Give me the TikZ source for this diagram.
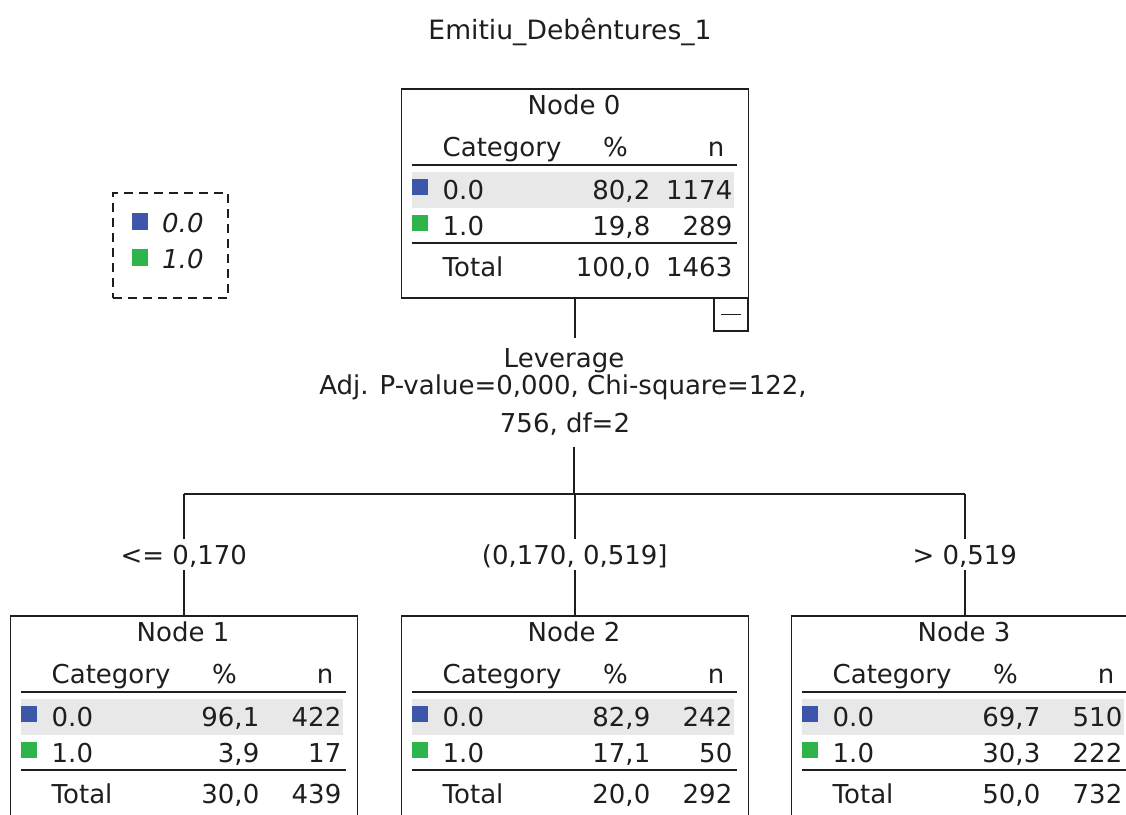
\documentclass[tikz,border=0pt]{standalone}
\usepackage{fontspec}
\setmainfont{DejaVu Sans}
\definecolor{catblue}{HTML}{3E56A9}
\definecolor{catgreen}{HTML}{2DB54A}
\definecolor{bandgray}{HTML}{E8E8E8}
\definecolor{ink}{HTML}{1E1E1E}
\tikzset{
  txt/.style={inner sep=0pt, text height=19pt, text depth=0pt, font=\fontsize{26}{30}\selectfont, text=ink},
  box/.style={draw=ink, line width=1.6pt, anchor=north west, minimum width=347pt, minimum height=209pt, inner sep=0pt},
  rule/.style={draw=ink, line width=1.6pt},
  conn/.style={draw=ink, line width=1.6pt},
  lab/.style={txt, fill=white, inner ysep=6pt, inner xsep=2pt},
}
\newcommand\spssnode[9]{%
  \begin{scope}[shift={(#2,#3)}]
    \fill[bandgray] (11,84) rectangle (333,120);
    \node[box] (n#1) at (0,0) {};
    \fill[catblue] (11,91) rectangle (27,107);
    \fill[catgreen] (11,127) rectangle (27,143);
    \node[txt] (n#1title) at (173.5,17) {Node #1};
    \node[txt, anchor=west] (n#1cat) at (42,59) {Category};
    \node[txt] (n#1pct) at (215,59) {\%};
    \node[txt, anchor=east] (n#1n) at (324,59) {n};
    \draw[rule] (11,77) -- (336,77);
    \node[txt, anchor=west] (n#1r0) at (42,102) {0.0};
    \node[txt, anchor=east] (n#1p0) at (250,102) {#4};
    \node[txt, anchor=east] (n#1c0) at (332,102) {#5};
    \node[txt, anchor=west] (n#1r1) at (42,137.5) {1.0};
    \node[txt, anchor=east] (n#1p1) at (250,137.5) {#6};
    \node[txt, anchor=east] (n#1c1) at (332,137.5) {#7};
    \draw[rule] (11,155) -- (336,155);
    \node[txt, anchor=west] (n#1tot) at (42,179) {Total};
    \node[txt, anchor=east] (n#1pt) at (250,179) {#8};
    \node[txt, anchor=east] (n#1ct) at (332,179) {#9};
  \end{scope}}
\begin{document}
\begin{tikzpicture}[x=1pt, y=-1pt]
  \useasboundingbox (0,0) rectangle (1126,814);
  \clip (0,0) rectangle (1126,814);
  \fill[white] (0,0) rectangle (1126,814);

  \node[txt, font=\fontsize{26.6}{30}\selectfont] (title) at (570,30) {Emitiu\_Debêntures\_1};

  % legend
  \node[draw=ink, line width=1.6pt, dash pattern=on 9pt off 6pt, anchor=north west,
        minimum width=115pt, minimum height=105pt, inner sep=0pt] (legend) at (112,192) {};
  \fill[catblue] (132,213) rectangle (148,230);
  \fill[catgreen] (132,249) rectangle (148,266);
  \node[txt, anchor=west, font=\fontsize{26}{30}\selectfont\itshape] (leg0) at (162,223) {0.0};
  \node[txt, anchor=west, font=\fontsize{26}{30}\selectfont\itshape] (leg1) at (162,259) {1.0};

  % nodes
  \spssnode{0}{400.5}{88}{80,2}{1174}{19,8}{289}{100,0}{1463}
  \spssnode{1}{9.5}{615}{96,1}{422}{3,9}{17}{30,0}{439}
  \spssnode{2}{400.5}{615}{82,9}{242}{17,1}{50}{20,0}{292}
  \spssnode{3}{790.5}{615}{69,7}{510}{30,3}{222}{50,0}{732}

  % collapse box
  \node[draw=ink, line width=1.6pt, anchor=north west, minimum width=34pt,
        minimum height=33pt, inner sep=0pt] (mbox) at (713,297) {};
  \draw[rule] ([xshift=-10pt]mbox.center) -- ([xshift=10pt]mbox.center);

  % split label
  \node[txt] (lev) at (564,358) {Leverage};
  \node[txt] (adj) at (563,385) {Adj. P-value=0,000, Chi-square=122,};
  \node[txt] (df) at (565,423) {756, df=2};

  % connectors
  \coordinate (s0) at (574,338);
  \coordinate (s1) at (574,447);
  \coordinate (j) at (574,494);
  \draw[conn] (n0.south) -- (n0.south |- s0);
  \draw[conn] (s1) -- (j);
  \draw[conn] (n1.north |- j) -- (n3.north |- j);
  \draw[conn] (n1.north |- j) -- node[lab] (l1) {<= 0,170} (n1.north);
  \draw[conn] (n2.north |- j) -- node[lab] (l2) {(0,170, 0,519]} (n2.north);
  \draw[conn] (n3.north |- j) -- node[lab] (l3) {> 0,519} (n3.north);
\end{tikzpicture}
\end{document}
